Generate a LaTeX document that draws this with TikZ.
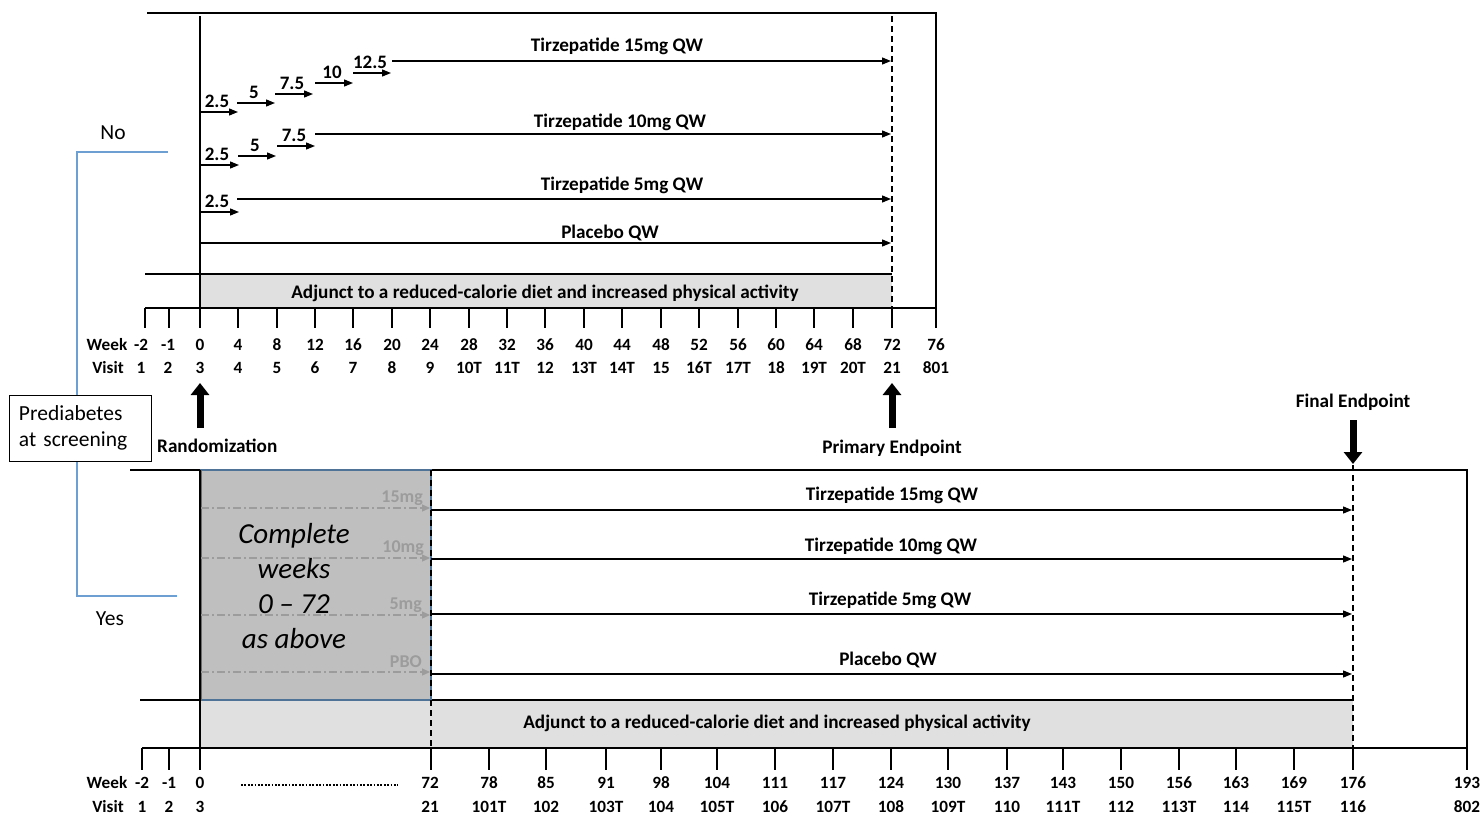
\documentclass[tikz,border=0pt]{standalone}
\usepackage{fontspec}
\setmainfont{Carlito}
\usetikzlibrary{arrows.meta}
\definecolor{bracket}{HTML}{6E9FD2}
\definecolor{band}{HTML}{E0E0E0}
\definecolor{darkbox}{HTML}{BFBFBF}
\definecolor{boxedge}{HTML}{4F7397}
\definecolor{ghost}{HTML}{9C9C9C}
\begin{document}
\begin{tikzpicture}[x=1pt,y=-1pt,
 thinline/.style={line width=1.3pt},
 arr/.style={line width=1.3pt,-{Triangle[length=9pt,width=7pt]}},
 doselab/.style={font=\fontsize{19}{19}\selectfont\bfseries, anchor=base, inner sep=0},
 lab/.style={font=\fontsize{19.2}{19}\selectfont\bfseries, anchor=base, inner sep=0},
 axlab/.style={font=\fontsize{17.2}{17}\selectfont\bfseries, anchor=base, inner sep=0},
 plain/.style={font=\fontsize{21.5}{21}\selectfont, inner sep=0},
 vdash/.style={line width=1.3pt, dash pattern=on 6pt off 4pt},
 bigarrow/.style={line width=7pt,-{Triangle[length=12pt,width=18pt]}},
 ghostarr/.style={ghost, line width=1.2pt, dash pattern=on 8pt off 3pt on 2pt off 3pt, -{Triangle[length=8pt,width=7pt]}},
 ghostlab/.style={text=ghost, font=\fontsize{18}{18}\selectfont\bfseries, anchor=base east, inner sep=0},
]
\useasboundingbox (0,0) rectangle (1483,814);

% ---------- bands ----------
\fill[band] (200,274) rectangle (892,308);
\fill[band] (200,700) rectangle (1353,748);

% ---------- blue bracket ----------
\coordinate (bNo) at (168,152);
\coordinate (bYes) at (177,596);
\draw[bracket, line width=1.5pt] (bNo) -- (77,152) -- (77,596) -- (bYes);
\node[plain] (no) at (113,133) {No};
\node[plain] (yes) at (110,619) {Yes};
\node[draw, fill=white, line width=1pt, minimum width=142pt, minimum height=66pt,
      text width=122pt, align=left, font=\fontsize{21.5}{26}\selectfont, inner sep=0]
      (pre) at (80,428) {Prediabetes\\at screening};

% ---------- top section frame ----------
\draw[thinline] (147,13) -- (936,13) -- (936,328);
\draw[thinline] (200,16) -- (200,328);
\draw[thinline] (145,274) -- (892,274);
\draw[thinline] (145,308) -- (936,308);
\draw[vdash] (892,16) -- (892,308);

% top ticks and labels
\foreach \x in {145,169,200,238,277,315,353,392,430,469,507,545,584,622,661,699,738,776,814,853,892,936}{
  \draw[thinline] (\x,308) -- (\x,328);
}
\foreach \x/\w/\v in {141/-2/1,168/-1/2,200/0/3,238/4/4,277/8/5,315/12/6,353/16/7,392/20/8,430/24/9,469/28/10T,507/32/11T,545/36/12,584/40/13T,622/44/14T,661/48/15,699/52/16T,738/56/17T,776/60/18,814/64/19T,853/68/20T,892/72/21,936/76/801}{
  \node[axlab] at (\x,350) {\w};
  \node[axlab] at (\x,373) {\v};
}
\node[axlab] (wk1) at (107,350) {Week};
\node[axlab] (vs1) at (108,373) {Visit};

% top dose-escalation arrows (15 mg)
\foreach \a/\b/\y/\t in {200/238/112/2.5,237/275/103/5,275/313/94/7.5,315/353/83/10,353/391/73/12.5}{
  \draw[arr] (\a,\y) -- (\b,\y);
  \node[doselab] at ({\a+17},{\y-5}) {\t};
}
\coordinate (s15) at (392,61); \coordinate (e15) at (891,61);
\draw[arr] (s15) -- (e15);
\node[lab] (l15) at (617,51) {Tirzepatide 15mg QW};

% 10 mg
\foreach \a/\b/\y/\t in {200/239/165/2.5,238/276/156/5,277/315/146/7.5}{
  \draw[arr] (\a,\y) -- (\b,\y);
  \node[doselab] at ({\a+17},{\y-5}) {\t};
}
\coordinate (s10) at (315,134); \coordinate (e10) at (891,134);
\draw[arr] (s10) -- (e10);
\node[lab] (l10) at (620,127) {Tirzepatide 10mg QW};

% 5 mg
\draw[arr] (200,212) -- (239,212);
\node[doselab] at (217,207) {2.5};
\coordinate (s5) at (237,199); \coordinate (e5) at (891,199);
\draw[arr] (s5) -- (e5);
\node[lab] (l5) at (622,190) {Tirzepatide 5mg QW};

% placebo
\coordinate (sp) at (200,243); \coordinate (ep) at (891,243);
\draw[arr] (sp) -- (ep);
\node[lab] (lp) at (610,238) {Placebo QW};

\node[lab] (adj1) at (545,298) {Adjunct to a reduced-calorie diet and increased physical activity};

% endpoint arrows
\coordinate (r0) at (200,428); \coordinate (r1) at (200,383);
\draw[bigarrow] (r0) -- (r1);
\node[lab, anchor=base west] (rand) at (157,452) {Randomization};
\coordinate (p0) at (892,428); \coordinate (p1) at (892,383);
\draw[bigarrow] (p0) -- (p1);
\node[lab] (prim) at (892,453) {Primary Endpoint};
\coordinate (f0) at (1353,420); \coordinate (f1) at (1353,464);
\draw[bigarrow] (f0) -- (f1);
\node[lab] (fin) at (1353,407) {Final Endpoint};

% ---------- bottom section ----------
\draw[thinline] (130,470) -- (1467,470) -- (1467,770);
\draw[thinline] (140,700) -- (1353,700);
\draw[thinline] (142,748) -- (1467,748);
\fill[darkbox] (201,470) rectangle (431,700);
\draw[boxedge, line width=1.2pt] (201,470) rectangle (431,700);
\draw[thinline] (200,470) -- (200,770);
\draw[vdash] (431,470) -- (431,748);
\draw[vdash] (1353,465) -- (1353,748);

% ghost arrows in box
\foreach \y in {508,558,615,672}{
  \draw[ghostarr] (201,\y) -- (430,\y);
}
\node[ghostlab] (g15) at (423,502) {15mg};
\node[ghostlab] (g10) at (424,552) {10mg};
\node[ghostlab] (g5) at (422,609) {5mg};
\node[ghostlab] (gp) at (422,667) {PBO};
\node[font=\fontsize{29}{34.7}\selectfont\itshape, align=center, inner sep=0] (cw) at (294,586)
  {Complete\\weeks\\0 – 72\\as above};

% bottom long arrows
\coordinate (bs15) at (431,510); \coordinate (be15) at (1352,510);
\coordinate (bs10) at (431,559); \coordinate (be10) at (1352,559);
\coordinate (bs5) at (431,614); \coordinate (be5) at (1352,614);
\coordinate (bsp) at (431,674); \coordinate (bep) at (1352,674);
\draw[arr] (bs15) -- (be15);
\draw[arr] (bs10) -- (be10);
\draw[arr] (bs5) -- (be5);
\draw[arr] (bsp) -- (bep);
\node[lab] (bl15) at (892,500) {Tirzepatide 15mg QW};
\node[lab] (bl10) at (891,551) {Tirzepatide 10mg QW};
\node[lab] (bl5) at (890,605) {Tirzepatide 5mg QW};
\node[lab] (blp) at (888,665) {Placebo QW};
\node[lab] (adj2) at (777,728) {Adjunct to a reduced-calorie diet and increased physical activity};

% bottom ticks
\foreach \x in {142,169,431,489,546,606,661,717,775,833,891,948,1007,1063,1121,1179,1236,1294,1353,1467}{
  \draw[thinline] (\x,748) -- (\x,770);
}
\foreach \x/\w/\v in {142/-2/1,169/-1/2,200/0/3,430/72/21,489/78/101T,546/85/102,606/91/103T,661/98/104,717/104/105T,775/111/106,833/117/107T,891/124/108,948/130/109T,1007/137/110,1063/143/111T,1121/150/112,1179/156/113T,1236/163/114,1294/169/115T,1353/176/116,1467/193/802}{
  \node[axlab] at (\x,788) {\w};
  \node[axlab] at (\x,812) {\v};
}
\node[axlab] (wk2) at (107,788) {Week};
\node[axlab] (vs2) at (108,812) {Visit};
\draw[line width=2pt, dash pattern=on 1.8pt off 1.6pt] (241,785) -- (398,785);
\end{tikzpicture}
\end{document}
